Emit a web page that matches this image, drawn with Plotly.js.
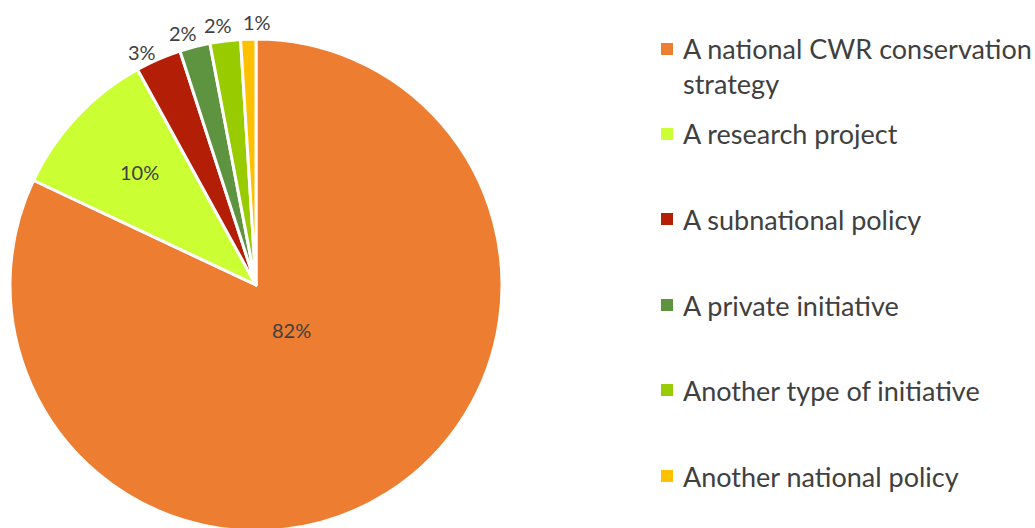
<!DOCTYPE html>
<html>
<head>
<meta charset="utf-8">
<script src="https://cdn.plot.ly/plotly-3.0.1.min.js"></script>
<style>
html,body{margin:0;padding:0;overflow:hidden;background:#fff;}
#chart{width:1035px;height:540px;}
</style>
</head>
<body>
<div id="chart"></div>
<script>
const labels = ["A national CWR conservation strategy", "A research project", "A subnational policy", "A private initiative", "Another type of initiative", "Another national policy"];
const legendLabels = ["A national CWR conservation<br>strategy", "A research project", "A subnational policy", "A private initiative", "Another type of initiative", "Another national policy"];
const values = [82, 10, 3, 2, 2, 1];
const colors = ["#ED7D31", "#CCFF33", "#B31E06", "#5E9440", "#99CC00", "#FFC000"];

const W = 1035, H = 540;
const fontFam = "Lato, 'Open Sans', sans-serif";
const textColor = "#404040";

// pie geometry (pixels)
const cx = 256, cy = 285, r = 246;
// label placement style: radial fraction of radius, plus small pixel nudges
const labelRadius = [0.235, 0.66, 1.06, 1.07, 1.07, 1.07];
const labelNudgeX = [5, 2, -10, -8, -5, 9];
const labelNudgeY = [-4, -2, 6, 3, 1, 0];

const trace = {
  type: "pie",
  labels: labels,
  values: values,
  sort: false,
  direction: "clockwise",
  rotation: 0,
  marker: {colors: colors, line: {color: "#ffffff", width: 3}},
  textinfo: "none",
  domain: {x: [(cx - r) / W, (cx + r) / W], y: [(H - (cy + r)) / H, (H - (cy - r)) / H]},
  showlegend: false,
  hoverinfo: "label+percent"
};

const annotations = [];
const shapes = [];

// percentage labels placed at each slice's mid-angle (derived from the values)
const total = values.reduce((a, b) => a + b, 0);
let cum = 0;
values.forEach((v, i) => {
  const mid = (cum + v / 2) / total;
  cum += v;
  const ang = mid * 2 * Math.PI; // clockwise from 12 o'clock
  const dx = Math.sin(ang), dy = -Math.cos(ang);
  const rr = r * labelRadius[i];
  const px = cx + dx * rr, py = cy + dy * rr;
  annotations.push({xref: "paper", yref: "paper", x: px / W, y: (H - py) / H,
    xanchor: "center", yanchor: "middle", showarrow: false,
    xshift: labelNudgeX[i], yshift: -labelNudgeY[i],
    text: Math.round(v / total * 100) + "%",
    font: {family: fontFam, size: 20, color: textColor}});
});

// legend
const legendY = [66, 134, 219, 305, 390, 476];
const markerY = [49, 134, 219, 305, 390, 476];
const legendX = 661, textX = 681;
legendLabels.forEach((lab, i) => {
  const yMarker = markerY[i];
  shapes.push({type: "rect", xref: "paper", yref: "paper",
    x0: legendX / W, x1: (legendX + 12) / W,
    y0: (H - (yMarker - 6)) / H, y1: (H - (yMarker + 6)) / H,
    fillcolor: colors[i], line: {width: 0}});
  annotations.push({xref: "paper", yref: "paper", x: textX / W, y: (H - legendY[i]) / H,
    xanchor: "left", yanchor: "middle",
    text: lab, showarrow: false, align: "left",
    font: {family: fontFam, size: 27, color: textColor}});
});

const layout = {
  width: W, height: H,
  margin: {l: 0, r: 0, t: 0, b: 0},
  paper_bgcolor: "#ffffff",
  annotations: annotations,
  shapes: shapes
};
Plotly.newPlot("chart", [trace], layout, {displayModeBar: false, staticPlot: true});
</script>
</body>
</html>
